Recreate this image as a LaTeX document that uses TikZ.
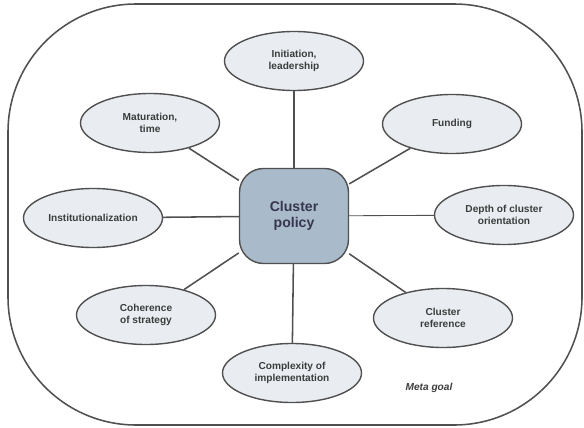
\documentclass[tikz,border=0pt]{standalone}
\usepackage{fontspec}
\setsansfont{Liberation Sans}
\usepackage{tikz}
\usetikzlibrary{shapes.geometric}

\definecolor{bubblefill}{HTML}{E9EDF1}
\definecolor{policyfill}{HTML}{A9BACB}
\definecolor{rimgray}{HTML}{505050}
\definecolor{textgray}{HTML}{3C3C3C}

\tikzset{
	factor/.style={ellipse, draw=rimgray, line width=1pt, fill=bubblefill, minimum width=3.475cm, minimum height=1.475cm, inner sep=0pt, align=center, text=textgray, font=\sffamily\bfseries\fontsize{7.2}{8.6}\selectfont},
	policy/.style={rectangle, rounded corners=0.6cm, draw=rimgray, line width=1pt, fill=policyfill, minimum width=2.725cm, minimum height=2.375cm, align=center, text=textgray!90!blue, font=\sffamily\bfseries\fontsize{10}{11.5}\selectfont},
	link/.style={draw=rimgray, line width=1.1pt}
}

\begin{document}
\begin{tikzpicture}[x=0.025cm, y=-0.025cm]
			\useasboundingbox (0,0) rectangle (584,427);
			\draw[rimgray, line width=1.1pt, rounded corners=3.2cm] (8,4) rectangle (582,425);
			\node[policy] (cp) at (294,216) {Cluster\\policy};
			\node[factor] (init) at (294,61) {Initiation,\\leadership};
			\node[factor] (mat) at (150,123) {Maturation,\\time};
			\node[factor] (fund) at (452,124) {Funding};
			\node[factor] (inst) at (93,218) {Institutionalization};
			\node[factor] (depth) at (504,215) {Depth of cluster\\orientation};
			\node[factor] (coh) at (146,315) {Coherence\\of strategy};
			\node[factor] (ref) at (443,318) {Cluster\\reference};
			\node[factor] (cplx) at (292,373) {Complexity of\\implementation};
			\node[text=textgray, font=\sffamily\bfseries\itshape\fontsize{7.2}{8.6}\selectfont] (meta) at (429,388) {Meta goal};
			\draw[link] (cp) -- (init);
			\draw[link] (cp) -- (mat);
			\draw[link] (cp) -- (fund);
			\draw[link] (cp) -- (inst);
			\draw[link, line width=0.6pt] (cp) -- (depth);
			\draw[link] (cp) -- (coh);
			\draw[link] (cp) -- (ref);
			\draw[link] (cp) -- (cplx);
		\end{tikzpicture}
\end{document}
